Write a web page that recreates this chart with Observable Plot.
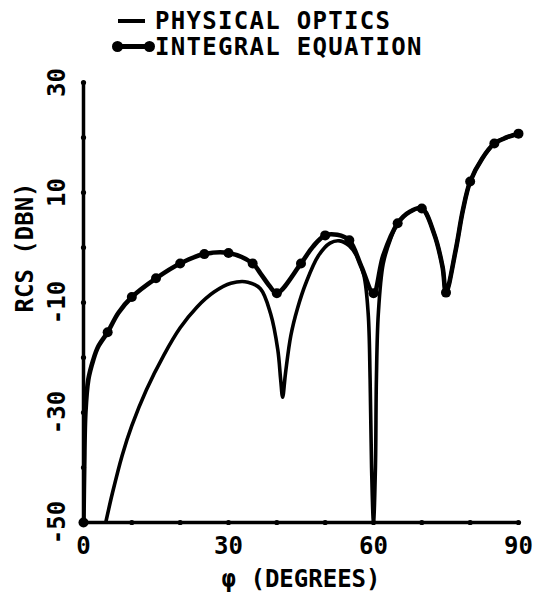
<!DOCTYPE html>
<html>
<head>
<meta charset="utf-8">
<script src="https://cdn.jsdelivr.net/npm/d3@7"></script>
<script src="https://cdn.jsdelivr.net/npm/@observablehq/plot@0.6"></script>
<style>
  html, body { margin: 0; padding: 0; background: #fff; }
  #wrap { width: 542px; height: 608px; position: relative; overflow: hidden; }
  #legend { position: relative; width: 542px; height: 55px; font-family: "DejaVu Sans Mono", monospace; font-weight: bold; font-size: 24px; line-height: 24px; letter-spacing: 1.3px; color: #000; }
  .lg { position: absolute; white-space: nowrap; }
  .sym { position: absolute; background: #000; }
  .dotc { position: absolute; background: #000; border-radius: 50%; }
  svg { display: block; }
</style>
</head>
<body>
<div id="wrap">
  <div id="legend">
    <div class="sym" style="left:118px; top:19px; width:27px; height:4px;"></div>
    <div class="lg" style="left:155px; top:9px;">PHYSICAL OPTICS</div>
    <div class="sym" style="left:117px; top:44px; width:33px; height:5px;"></div>
    <div class="dotc" style="left:112px; top:41px; width:11px; height:11px;"></div>
    <div class="dotc" style="left:144px; top:41px; width:11px; height:11px;"></div>
    <div class="lg" style="left:155px; top:35px;">INTEGRAL EQUATION</div>
  </div>
  <div id="chart"></div>
</div>
<script>
// ---- data ----
const ieDeg = [0, 0.15, 0.4, 1, 2, 3, 5, 7.2, 10, 15, 20, 25, 30, 35, 36.6, 38.5, 40, 45, 47.5, 50, 52.5, 55, 57.5, 60, 62, 65, 67.5, 70, 72.5, 74.3, 75, 77, 78.5, 80, 82.5, 85, 87.5, 90];
const ieDb  = [-50, -40, -30, -24, -20.5, -18.1, -15.4, -11.9, -9.0, -5.6, -2.9, -1.2, -1.0, -2.9, -4.7, -7, -8.3, -2.9, 0.2, 2.2, 2.3, 1.3, -3.5, -8.3, -1.5, 4.4, 6.5, 7.1, 2.6, -3.6, -8.2, -0.5, 6.8, 12.0, 16.2, 18.9, 20.0, 20.7];
const ieDotDeg = [0, 5, 10, 15, 20, 25, 30, 35, 40, 45, 50, 55, 60, 65, 70, 75, 80, 85, 90];
const ieDotDb  = [-50, -15.4, -9.0, -5.6, -2.9, -1.2, -1.0, -2.9, -8.3, -2.9, 2.2, 1.3, -8.3, 4.4, 7.1, -8.2, 12.0, 18.9, 20.7];

const poDeg = [4.6, 6, 8, 10, 13, 16.6, 20, 23.5, 27, 30.5, 34, 36.6, 38.7, 40.2, 40.8, 41.2, 41.8, 42.9, 44.3, 46, 48.6, 51, 53, 55, 56.5, 58, 58.9, 59.3, 59.6, 60, 60.4, 60.6, 61, 62, 63.5, 65, 67.5, 70, 72.5, 74.3, 75, 77, 78.5, 80, 82.5, 85, 87.5, 90];
const poDb  = [-50, -44.6, -37.8, -32.4, -25.9, -19.6, -14.6, -10.8, -8.1, -6.5, -6.3, -7.5, -12, -18.6, -24.1, -27.2, -22.8, -16, -11, -6.5, -1.5, 0.8, 1.2, 0.3, -1.5, -5, -12, -24, -40, -50, -40, -24, -12, -3, 1.5, 4.4, 6.5, 7.1, 2.6, -3.6, -8.2, -0.5, 6.8, 12.0, 16.2, 18.9, 20.0, 20.7];

const xTickLabels = [0, 30, 60, 90];
const yTickLabels = [30, 10, -10, -30, -50];
const xTickDots = [10, 20, 30, 40, 50, 60, 70, 80, 90];
const yTickDots = [-40, -30, -20, -10, 0, 10, 20, 30];
const xTitle = "φ (DEGREES)";
const yTitle = "RCS (DBN)";

// ---- tables built from arrays ----
const ie = ieDeg.map((d, i) => ({deg: d, db: ieDb[i]}));
const ieDots = ieDotDeg.map((d, i) => ({deg: d, db: ieDotDb[i]}));
const po = poDeg.map((d, i) => ({deg: d, db: poDb[i]}));

const font = "'DejaVu Sans Mono', monospace";

const chart = Plot.plot({
  width: 542,
  height: 553,
  marginLeft: 83,
  marginRight: 24,
  marginTop: 27,
  marginBottom: 86,
  x: {domain: [0, 90], axis: null},
  y: {domain: [-50, 30], axis: null},
  style: {fontFamily: font, fontWeight: "bold", background: "#fff", color: "#000", overflow: "visible"},
  marks: [
    Plot.ruleX([0], {stroke: "#000", strokeWidth: 3.5}),
    Plot.ruleY([-50], {stroke: "#000", strokeWidth: 3.5}),
    Plot.dot(yTickDots, {x: () => 0, y: d => d, r: 2.6, fill: "#000"}),
    Plot.dot(xTickDots, {x: d => d, y: () => -50, r: 2.6, fill: "#000"}),
    Plot.line(po, {x: "deg", y: "db", stroke: "#000", strokeWidth: 3.6, curve: "catmull-rom", clip: true}),
    Plot.line(ie, {x: "deg", y: "db", stroke: "#000", strokeWidth: 4.6, curve: "catmull-rom", clip: true}),
    Plot.dot(ieDots, {x: "deg", y: "db", r: 5, fill: "#000"}),
    Plot.text(xTickLabels, {x: d => d, frameAnchor: "bottom", dy: 31, text: d => String(d), fontSize: 24, fontWeight: "bold", fill: "#000"}),
    Plot.text(yTickLabels, {y: d => d, frameAnchor: "left", dx: -26, rotate: -90, text: d => String(d), fontSize: 24, fontWeight: "bold", fill: "#000", textAnchor: "middle"}),
    Plot.text([yTitle], {frameAnchor: "left", dx: -58, dy: 10, rotate: -90, text: d => d, fontSize: 24, fontWeight: "bold", fill: "#000"}),
    Plot.text([xTitle], {frameAnchor: "bottom", dy: 64, text: d => d, fontSize: 24, fontWeight: "bold", fill: "#000"})
  ]
});
document.getElementById("chart").appendChild(chart);
</script>
</body>
</html>
